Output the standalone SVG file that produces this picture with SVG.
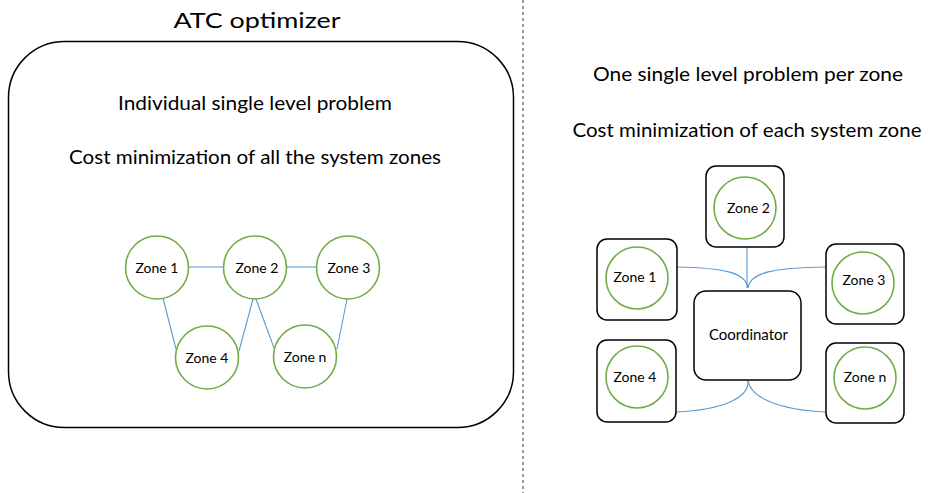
<svg xmlns="http://www.w3.org/2000/svg" width="929" height="493" viewBox="0 0 929 493">
<style>
text{font-family:Lato,"Liberation Sans",sans-serif;fill:#000;text-anchor:middle}
.t{font-size:20px}
.z{font-size:14px}
.c{fill:#fff;stroke:#70AD47;stroke-width:1.6}
.b{fill:#fff;stroke:#000;stroke-width:1.5}
.l{fill:none;stroke:#5B9BD5;stroke-width:1.1}
</style>
<rect width="929" height="493" fill="#fff"/>
<line x1="523" y1="0" x2="523" y2="493" stroke="#333" stroke-width="1" stroke-dasharray="3,3"/>
<g id="atc">
<rect x="8.5" y="41.5" width="505" height="386" rx="56" class="b"/>
<text x="257" y="28" style="font-size:22px" textLength="167" lengthAdjust="spacingAndGlyphs">ATC optimizer</text>
<text x="255" y="110" class="t" textLength="274" lengthAdjust="spacingAndGlyphs">Individual single level problem</text>
<text x="255" y="164" class="t" textLength="372" lengthAdjust="spacingAndGlyphs">Cost minimization of all the system zones</text>
</g>
<text x="748" y="81" class="t" textLength="310" lengthAdjust="spacingAndGlyphs">One single level problem per zone</text>
<text x="747" y="137" class="t" textLength="349" lengthAdjust="spacingAndGlyphs">Cost minimization of each system zone</text>
<g id="connectors">
<line x1="188" y1="267" x2="224" y2="267" class="l"/>
<line x1="286" y1="267" x2="317" y2="267" class="l"/>
<line x1="163" y1="298" x2="176" y2="349" class="l"/>
<line x1="253" y1="299" x2="239" y2="351" class="l"/>
<line x1="256" y1="299" x2="274" y2="348" class="l"/>
<line x1="347" y1="299" x2="337" y2="349" class="l"/>
<path d="M677,267 C722,268 746,272 748,288" class="l"/>
<path d="M747,247 L747,288" class="l"/>
<path d="M826,267 C774,268 750,272 748,288" class="l"/>
<path d="M748,380 C750,398 722,410 676,412" class="l"/>
<path d="M748,380 C750,398 780,410 826,412" class="l"/>
</g>
<g id="l-zone1"><circle cx="157" cy="267.5" r="31.5" class="c"/><text x="157" y="272.5" class="z">Zone 1</text></g>
<g id="l-zone2"><circle cx="255" cy="267.5" r="31.5" class="c"/><text x="257" y="272.5" class="z">Zone 2</text></g>
<g id="l-zone3"><circle cx="348" cy="267.5" r="31.5" class="c"/><text x="349" y="272.5" class="z">Zone 3</text></g>
<g id="l-zone4"><circle cx="207" cy="357.5" r="31.5" class="c"/><text x="207" y="363" class="z">Zone 4</text></g>
<g id="l-zonen"><circle cx="305" cy="356.5" r="31.5" class="c"/><text x="305" y="362" class="z">Zone n</text></g>
<g id="r-zone2"><rect x="706" y="166" width="78" height="81" rx="10" class="b"/><circle cx="745" cy="208" r="31" class="c"/><text x="748.5" y="213" class="z">Zone 2</text></g>
<g id="r-zone1"><rect x="597" y="239" width="80" height="81" rx="10" class="b"/><circle cx="637" cy="278" r="31" class="c"/><text x="635" y="282" class="z">Zone 1</text></g>
<g id="r-zone3"><rect x="826" y="244" width="78" height="80" rx="10" class="b"/><circle cx="863" cy="283" r="31" class="c"/><text x="864" y="285" class="z">Zone 3</text></g>
<g id="coordinator"><rect x="694" y="291" width="107" height="89" rx="12" class="b"/><text x="748.5" y="340" style="font-size:15px">Coordinator</text></g>
<g id="r-zone4"><rect x="597" y="340" width="79" height="82" rx="10" class="b"/><circle cx="637" cy="377" r="31" class="c"/><text x="635" y="382" class="z">Zone 4</text></g>
<g id="r-zonen"><rect x="826" y="343" width="78" height="80" rx="10" class="b"/><circle cx="865" cy="378" r="31" class="c"/><text x="865" y="382" class="z">Zone n</text></g>
</svg>
